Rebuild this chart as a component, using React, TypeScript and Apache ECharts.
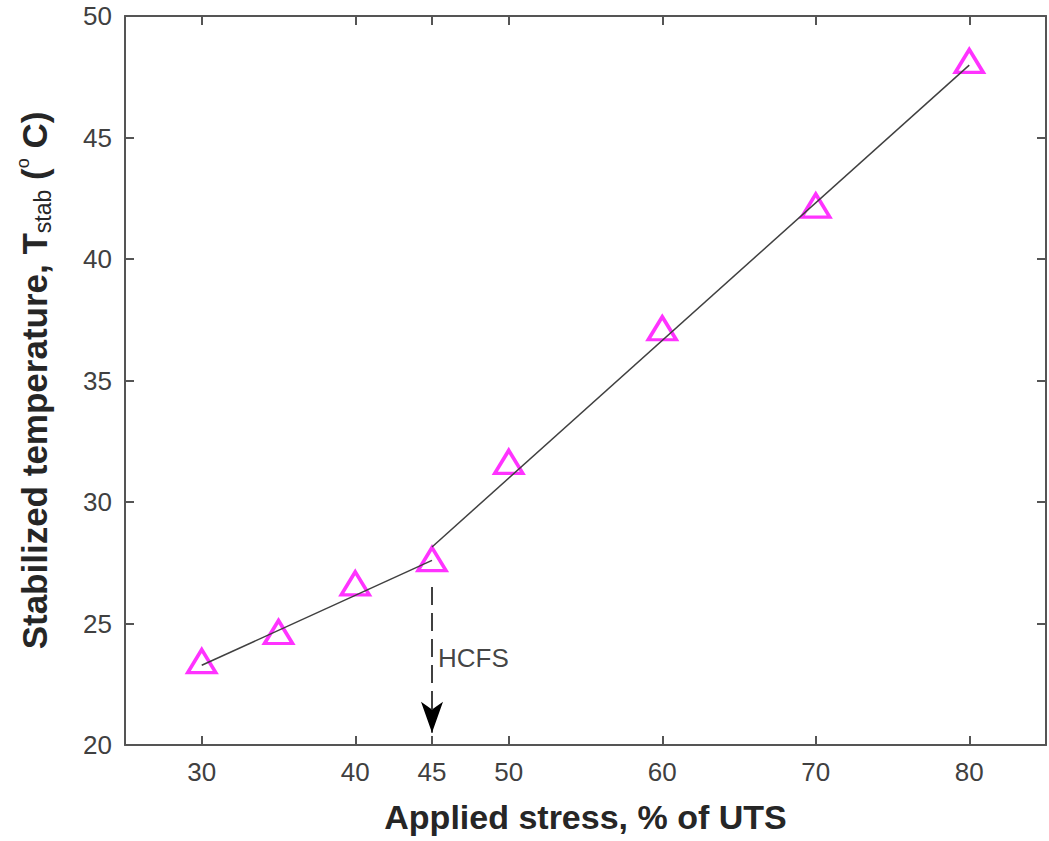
import React, { useEffect, useRef } from "react";
import * as echarts from "echarts";

// ---- data ----
const stress = [30, 35, 40, 45, 50, 60, 70, 80];
const tempStab = [23.45, 24.65, 26.65, 27.65, 31.65, 37.15, 42.2, 48.15];
const fitLowX = [30, 45];
const fitLowY = [23.28, 27.6];
const fitHighX = [45, 80];
const fitHighY = [28.15, 47.98];
const xTicks = [30, 40, 45, 50, 60, 70, 80];
const arrowX = 45;
const arrowFromY = 26.5;
const arrowToY = 20.5;
const hcfsLabel = "HCFS";
const hcfsY = 23.6;

const FONT = "'Liberation Sans', Arial, Helvetica, sans-serif";
const AXIS_COLOR = "#555555";
const LABEL_COLOR = "#404040";
const TITLE_COLOR = "#262626";

export default function App() {
  const ref = useRef<HTMLDivElement>(null);
  useEffect(() => {
    if (!ref.current) return;
    const chart = echarts.init(ref.current, undefined, { renderer: "svg" });
    const axisLine = { show: true, onZero: false, lineStyle: { color: AXIS_COLOR, width: 2 } };
    const tickStyle = { color: AXIS_COLOR, width: 2 };
    const option: any = {
      animation: false,
      backgroundColor: "#ffffff",
      grid: { left: 125, right: 3, top: 16, bottom: 96, containLabel: false },
      xAxis: [
        {
          type: "value",
          min: 25,
          max: 85,
          position: "bottom",
          axisLine,
          axisTick: { show: true, inside: true, length: 9, customValues: xTicks, lineStyle: tickStyle },
          axisLabel: { customValues: xTicks, fontSize: 26, color: LABEL_COLOR, fontFamily: FONT, margin: 14 },
          splitLine: { show: false },
          name: "Applied stress, % of UTS",
          nameLocation: "middle",
          nameGap: 55,
          nameTextStyle: { fontSize: 34, fontWeight: "bold", color: TITLE_COLOR, fontFamily: FONT },
        },
        {
          type: "value",
          min: 25,
          max: 85,
          position: "top",
          axisLine,
          axisTick: { show: true, inside: true, length: 9, customValues: xTicks, lineStyle: tickStyle },
          axisLabel: { show: false, customValues: xTicks },
          splitLine: { show: false },
        },
      ],
      yAxis: [
        {
          type: "value",
          min: 20,
          max: 50,
          interval: 5,
          position: "left",
          axisLine,
          axisTick: { show: true, inside: true, length: 9, lineStyle: tickStyle },
          axisLabel: { fontSize: 26, color: LABEL_COLOR, fontFamily: FONT, margin: 13 },
          splitLine: { show: false },
          name: "{m|Stabilized temperature, T}{s|stab}{m| (}{o|o}{m| C)}",
          nameLocation: "middle",
          nameRotate: 90,
          nameGap: 71,
          nameTextStyle: {
            fontSize: 35,
            fontWeight: "bold",
            color: TITLE_COLOR,
            fontFamily: FONT,
            rich: {
              m: { fontSize: 35, fontWeight: "bold", color: TITLE_COLOR, fontFamily: FONT, lineHeight: 40, verticalAlign: "middle" },
              s: { fontSize: 23, fontWeight: "normal", color: TITLE_COLOR, fontFamily: FONT, lineHeight: 20, verticalAlign: "bottom" },
              o: { fontSize: 18, fontWeight: "normal", color: TITLE_COLOR, fontFamily: FONT, lineHeight: 12, verticalAlign: "top" },
            },
          },
        },
        {
          type: "value",
          min: 20,
          max: 50,
          interval: 5,
          position: "right",
          axisLine,
          axisTick: { show: true, inside: true, length: 9, lineStyle: tickStyle },
          axisLabel: { show: false },
          splitLine: { show: false },
        },
      ],
      series: [
        {
          type: "scatter",
          data: stress.map((x, i) => [x, tempStab[i]]),
          symbol: "triangle",
          symbolSize: [28, 23],
          itemStyle: { color: "rgba(0,0,0,0)", borderColor: "#ff00ff", borderWidth: 3.5 },
          z: 2,
        },
        {
          type: "line",
          data: fitLowX.map((x, i) => [x, fitLowY[i]]),
          showSymbol: false,
          symbol: "none",
          lineStyle: { color: "#404040", width: 1.5 },
          z: 3,
        },
        {
          type: "line",
          data: fitHighX.map((x, i) => [x, fitHighY[i]]),
          showSymbol: false,
          symbol: "none",
          lineStyle: { color: "#404040", width: 1.5 },
          z: 3,
        },
        {
          type: "lines",
          coordinateSystem: "cartesian2d",
          polyline: false,
          symbol: ["none", "arrow"],
          symbolSize: [10, [16.5, 31]],
          lineStyle: { color: "#000000", width: 1.5, type: [18, 8], opacity: 1 },
          itemStyle: { color: "#000000" },
          data: [{ coords: [[arrowX, arrowFromY], [arrowX, arrowToY]] }],
          z: 4,
        },
        {
          type: "scatter",
          data: [[arrowX, hcfsY]],
          symbol: "circle",
          symbolSize: 0,
          silent: true,
          label: {
            show: true,
            position: "right",
            distance: 6,
            formatter: hcfsLabel,
            fontSize: 26,
            color: "#111111",
            fontFamily: FONT,
          },
          z: 4,
        },
      ],
    };
    chart.setOption(option);
    return () => chart.dispose();
  }, []);
  return (
    <div
      ref={ref}
      style={{ position: "fixed", left: 0, top: 0, width: 1049, height: 841, background: "#fff" }}
    />
  );
}
